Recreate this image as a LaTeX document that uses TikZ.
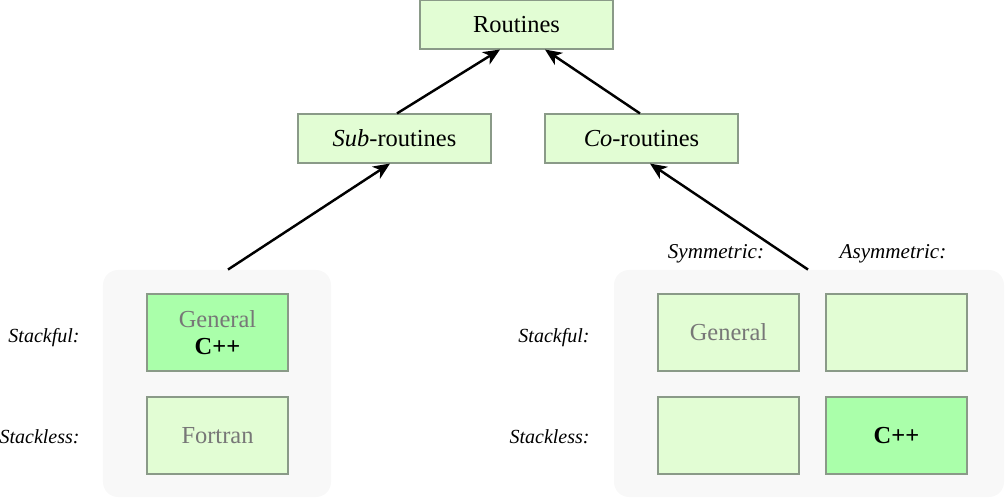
\documentclass[tikz,border=0pt]{standalone}
\usepackage{fontspec}
\setmainfont{Liberation Serif}
\usetikzlibrary{arrows.meta}
\definecolor{lightgr}{HTML}{E2FDD4}
\definecolor{brightgr}{HTML}{AAFFAA}
\definecolor{boxline}{HTML}{8A9A88}
\definecolor{groupbg}{HTML}{F8F8F8}
\definecolor{softtext}{HTML}{777777}
\tikzset{
  topbox/.style={draw=boxline, line width=0.5pt, fill=lightgr, minimum width=86.85pt, minimum height=22.05pt, inner sep=0pt},
  cellbox/.style={draw=boxline, line width=0.5pt, fill=lightgr, minimum width=63.45pt, minimum height=34.65pt, inner sep=0pt, align=center},
  hotcell/.style={cellbox, fill=brightgr},
  groupbox/.style={fill=groupbg, rounded corners=6.75pt, minimum height=102.15pt, inner sep=0pt},
  rowlabel/.style={anchor=east, font=\fontsize{9}{11}\selectfont\itshape, inner sep=0pt},
  collabel/.style={font=\fontsize{9.5}{11}\selectfont\itshape, inner sep=0pt},
  link/.style={-{Stealth[length=7.5pt,width=6.5pt,inset=2.2pt]}, line width=1.1pt},
  soft/.style={text=softtext}
}
\begin{document}
\begin{tikzpicture}[x=0.45pt,y=-0.45pt, every node/.append style={font=\fontsize{11}{13}\selectfont}]
\useasboundingbox (0,0) rectangle (1005,498);
% groups
\node[groupbox, minimum width=102.6pt] (lg) at (217,383.5) {};
\node[groupbox, minimum width=175.5pt] (rg) at (809,383.5) {};
% top
\node[topbox] (rt) at (516.5,24.5) {Routines};
\node[topbox] (sub) at (394.5,138.5) {\textit{Sub}-routines};
\node[topbox] (co) at (641.5,138.5) {\textit{Co}-routines};
% left cells
\node[hotcell] (lsf) at (217.5,332.5) {\textcolor{softtext}{General}\\[-1pt]\textbf{C++}};
\node[cellbox, soft] (lsl) at (217.5,435.5) {Fortran};
% right cells
\node[cellbox, soft] (rsf) at (728.5,332.5) {General};
\node[cellbox] (rasf) at (896.5,332.5) {};
\node[cellbox] (rsl) at (728.5,435.5) {};
\node[hotcell] (rasl) at (896.5,435.5) {\textbf{C++}};
% labels
\node[rowlabel] (l1) at (80,338) {Stackful:};
\node[rowlabel] (l2) at (80,437) {Stackless:};
\node[rowlabel] (l3) at (590,338) {Stackful:};
\node[rowlabel] (l4) at (590,437) {Stackless:};
\node[collabel] (c1) at (716,254) {Symmetric:};
\node[collabel] (c2) at (893,254) {Asymmetric:};
% arrows
\draw[link] ([xshift=11*0.45pt]lg.north) -- ([xshift=-4.5*0.45pt]sub.south);
\draw[link] ([xshift=-1*0.45pt]rg.north) -- ([xshift=8.5*0.45pt]co.south);
\draw[link] ([xshift=2.5*0.45pt]sub.north) -- ([xshift=-16.5*0.45pt]rt.south);
\draw[link] ([xshift=-1.5*0.45pt]co.north) -- ([xshift=28.5*0.45pt]rt.south);
\end{tikzpicture}
\end{document}
